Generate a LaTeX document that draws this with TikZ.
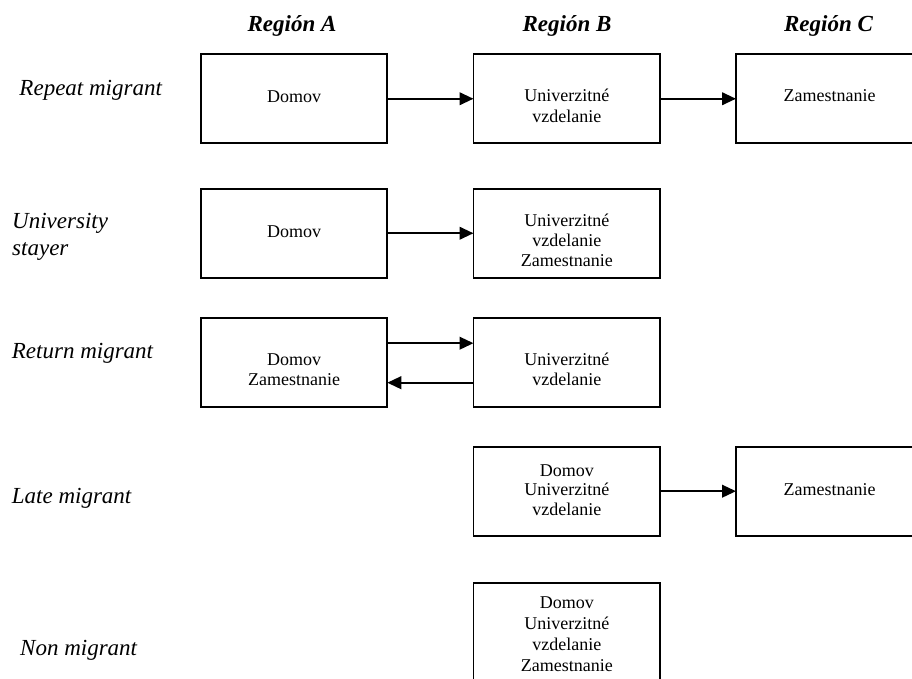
\documentclass[tikz,border=0pt]{standalone}
\usepackage{fontspec}
\setmainfont{Liberation Serif}
\usetikzlibrary{arrows.meta}
\tikzset{
  box/.style={draw=black, line width=1.7pt, minimum width=186.5pt, minimum height=89pt, inner sep=0pt, outer sep=0pt},
  boxtext/.style={anchor=base, inner sep=0pt, font=\fontsize{18}{20.5}\selectfont},
  rowlabel/.style={anchor=base west, inner sep=0pt, font=\fontsize{23}{27}\selectfont\itshape},
  header/.style={anchor=base, inner sep=0pt, font=\fontsize{23}{27}\selectfont\bfseries\itshape},
  conn/.style={line width=2.4pt, -{Triangle[length=14pt, width=12.5pt]}}
}
\begin{document}
\begin{tikzpicture}[x=1pt, y=-1pt]
\useasboundingbox (0,0) rectangle (912,679);
% headers
\node[header] (hA) at (292,32) {Región A};
\node[header] (hB) at (567,32) {Región B};
\node[header] (hC) at (828.5,32) {Región C};
% row labels
\node[rowlabel] (l1) at (19.3,95.7) {Repeat migrant};
\node[rowlabel] (l2a) at (12,228) {University};
\node[rowlabel] (l2b) at (12,255) {stayer};
\node[rowlabel] (l3) at (11.7,358) {Return migrant};
\node[rowlabel] (l4) at (11.7,503.3) {Late migrant};
\node[rowlabel] (l5) at (20,655) {Non migrant};
% row 1
\node[box] (a1) at (294,98.75) {};
\node[box] (b1) at (566.75,98.75) {};
\node[box] (c1) at (829.25,98.75) {};
\node[boxtext] (a1t) at (294,103) {Domov};
\node[boxtext] (b1t1) at (566.75,102) {Univerzitné};
\node[boxtext] (b1t2) at (566.75,123) {vzdelanie};
\node[boxtext] (c1t) at (829.5,102) {Zamestnanie};
\draw[conn] (a1.east) -- (b1.west);
\draw[conn] (b1.east) -- (c1.west);
% row 2
\node[box] (a2) at (294,233.25) {};
\node[box] (b2) at (566.75,233.25) {};
\node[boxtext] (a2t) at (294,237) {Domov};
\node[boxtext] (b2t1) at (566.75,226) {Univerzitné};
\node[boxtext] (b2t2) at (566.75,246) {vzdelanie};
\node[boxtext] (b2t3) at (566.75,266) {Zamestnanie};
\draw[conn] (a2.east) -- (b2.west);
% row 3
\node[box] (a3) at (294,362.2) {};
\node[box] (b3) at (566.75,362.2) {};
\node[boxtext] (a3t1) at (294,365) {Domov};
\node[boxtext] (a3t2) at (294,385.7) {Zamestnanie};
\node[boxtext] (b3t1) at (566.75,365) {Univerzitné};
\node[boxtext] (b3t2) at (566.75,385.7) {vzdelanie};
\draw[conn] ([yshift=19pt]a3.east) -- ([yshift=19pt]b3.west);
\draw[conn] ([yshift=-20.5pt]b3.west) -- ([yshift=-20.5pt]a3.east);
% row 4
\node[box] (b4) at (566.75,491.2) {};
\node[box] (c4) at (829.25,491.2) {};
\node[boxtext] (b4t1) at (566.75,476) {Domov};
\node[boxtext] (b4t2) at (566.75,495.5) {Univerzitné};
\node[boxtext] (b4t3) at (566.75,515) {vzdelanie};
\node[boxtext] (c4t) at (829.5,495.5) {Zamestnanie};
\draw[conn] (b4.east) -- (c4.west);
% row 5
\node[box, minimum height=106pt] (b5) at (566.75,636) {};
\node[boxtext] (b5t1) at (566.75,608.5) {Domov};
\node[boxtext] (b5t2) at (566.75,629.5) {Univerzitné};
\node[boxtext] (b5t3) at (566.75,650.5) {vzdelanie};
\node[boxtext] (b5t4) at (566.75,671.5) {Zamestnanie};
\end{tikzpicture}
\end{document}
